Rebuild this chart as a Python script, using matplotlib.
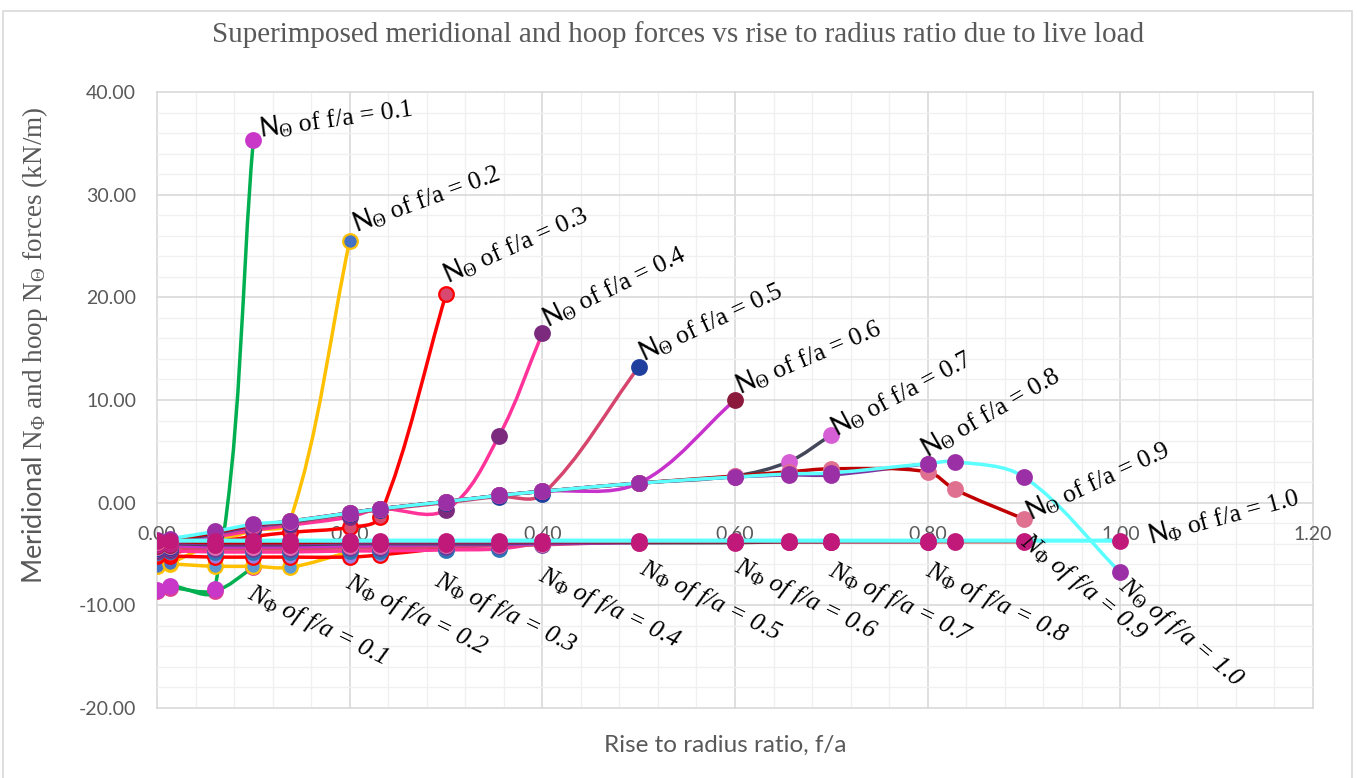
import numpy as np
import matplotlib
matplotlib.use("Agg")
import matplotlib.pyplot as plt
from matplotlib.path import Path
from matplotlib.patches import PathPatch, Rectangle
from matplotlib.ticker import MultipleLocator, FormatStrFormatter

plt.rcParams["mathtext.fontset"] = "custom"
plt.rcParams["mathtext.rm"] = "Liberation Serif"
plt.rcParams["mathtext.it"] = "Liberation Serif:italic"
plt.rcParams["mathtext.sf"] = "Lato"
plt.rcParams["mathtext.fallback"] = "stix"

W, H, DPI = 1357, 778, 100

# stations along the shell, expressed as rise to radius ratio
stations = [0.0, 0.0135, 0.06, 0.10, 0.138, 0.20, 0.231, 0.30, 0.355, 0.40,
            0.50, 0.60, 0.656, 0.70, 0.80, 0.828, 0.90, 1.00]

rise_ratios = ["0.1", "0.2", "0.3", "0.4", "0.5", "0.6", "0.7", "0.8", "0.9", "1.0"]

# hoop forces N_theta (kN/m)
hoop_01 = [-8.5, -8.1, -8.4, 35.3]
hoop_02 = [-6.2, -5.9, -3.9, -2.7, -1.8, 25.5]
hoop_03 = [-5.1, -5.0, -3.9, -3.3, -2.9, -2.4, -1.4, 20.3]
hoop_04 = [-4.7, -4.6, -3.4, -2.7, -2.2, -1.4, -0.6, -0.7, 6.5, 16.5]
hoop_05 = [-4.4, -4.3, -3.2, -2.5, -2.0, -1.1, -0.7, 0.0, 0.6, 0.8, 13.2]
hoop_06 = [-4.2, -4.1, -3.1, -2.4, -1.9, -1.0, -0.6, 0.1, 0.7, 1.1, 1.9, 10.0]
hoop_07 = [-4.0, -3.9, -3.0, -2.3, -1.9, -1.0, -0.6, 0.1, 0.7, 1.1, 1.9, 2.6, 4.0, 6.6]
hoop_08 = [-3.9, -3.8, -2.9, -2.3, -1.8, -1.0, -0.6, 0.1, 0.7, 1.1, 1.9, 2.5, 2.7, 2.7, 3.8]
hoop_09 = [-3.8, -3.7, -2.9, -2.2, -1.8, -1.0, -0.6, 0.1, 0.7, 1.1, 1.9, 2.6, 3.0, 3.3,
           3.0, 1.3, -1.6]
hoop_10 = [-3.6, -3.5, -2.8, -2.1, -1.8, -1.0, -0.6, 0.1, 0.7, 1.1, 1.9, 2.5, 2.8, 2.9,
           3.8, 4.0, 2.5, -6.8]

# meridional forces N_phi (kN/m)
merid_01 = [-8.6, -8.3, -8.6, -6.3]
merid_02 = [-6.2, -6.0, -6.2, -6.2, -6.3, -4.8]
merid_03 = [-5.2, -5.2, -5.3, -5.3, -5.3, -5.3, -5.1, -4.4]
merid_04 = [-4.8, -4.7, -4.8, -4.8, -4.8, -4.7, -4.7, -4.6, -4.5, -3.9]
merid_05 = [-4.5, -4.4, -4.5, -4.5, -4.5, -4.4, -4.4, -4.3, -4.2, -4.1, -3.8]
merid_06 = [-4.3, -4.2, -4.3, -4.3, -4.3, -4.2, -4.2, -4.1, -4.1, -4.0, -3.9, -3.8]
merid_07 = [-4.1, -4.0, -4.1, -4.1, -4.1, -4.0, -4.0, -4.0, -4.0, -3.9, -3.9, -3.9, -3.8, -3.8]
merid_08 = [-4.0, -3.9, -4.0, -4.0, -4.0, -3.9, -3.9, -3.9, -3.9, -3.9, -3.8, -3.8, -3.8,
            -3.8, -3.8]
merid_09 = [-3.9, -3.8, -3.9, -3.9, -3.9, -3.8, -3.8, -3.8, -3.8, -3.8, -3.8, -3.8, -3.8,
            -3.8, -3.8, -3.8, -3.8]
merid_10 = [-3.7, -3.7, -3.7, -3.7, -3.7, -3.7, -3.7, -3.7, -3.7, -3.7, -3.7, -3.7, -3.7,
            -3.7, -3.7, -3.7, -3.7, -3.7]

hoop_sets = [hoop_01, hoop_02, hoop_03, hoop_04, hoop_05,
             hoop_06, hoop_07, hoop_08, hoop_09, hoop_10]
merid_sets = [merid_01, merid_02, merid_03, merid_04, merid_05,
              merid_06, merid_07, merid_08, merid_09, merid_10]

line_colors = ["#00B050", "#FFC000", "#FF0000", "#FF3399", "#D6456E",
               "#C832CC", "#44475A", "#7E32A0", "#C00000", "#5CFFFF"]
hoop_marker = ["#C837C8", "#4472C4", "#D9486E", "#7B2A7E", "#1F3F9F",
               "#8B1A3D", "#D65FD6", "#9B2FA5", "#E07090", "#9B2FA5"]
hoop_edge = ["#C837C8", "#FFC000", "#FF0000", "#7B2A7E", "#1F3F9F",
             "#8B1A3D", "#D65FD6", "#9B2FA5", "#E07090", "#9B2FA5"]
merid_marker = ["#E0418E", "#5B9BD5", "#9B7FE0", "#2E75B6", "#6A3D9A",
                "#E070B0", "#C0197A", "#C0197A", "#C0197A", "#C0197A"]
merid_edge = ["#E0418E", "#FFC000", "#FF0000", "#2E75B6", "#6A3D9A",
              "#E070B0", "#C0197A", "#C0197A", "#C0197A", "#C0197A"]

# label placement: rotation (deg) and pixel offset from the last point
hoop_lab = [(8, 7, 3), (20, 6, 8), (24, 2, 10), (26, 5, 5), (25, 5, 5),
            (23, 5, 5), (28, 5, -2), (30, 0, 6), (25, 7, -2), (-40, 10, 0)]
merid_lab = [(-26, 2, -12), (-26, 3, -17), (-26, -4, -19), (-26, 4, -19),
             (-26, 8, -13), (-26, 7, -11), (-26, 5, -15), (-26, 5, -15),
             (-39, 8, 14), (15, 30, -4)]

LABEL_SIZE = 18.5

fig = plt.figure(figsize=(W / DPI, H / DPI), dpi=DPI)
ax = fig.add_axes([157 / W, 1 - 708 / H, (1313 - 157) / W, (708 - 92) / H])
ax.set_xlim(0, 1.2)
ax.set_ylim(-20, 40)

ax.xaxis.set_major_locator(MultipleLocator(0.2))
ax.xaxis.set_minor_locator(MultipleLocator(0.04))
ax.yaxis.set_major_locator(MultipleLocator(10))
ax.yaxis.set_minor_locator(MultipleLocator(2))
ax.xaxis.set_major_formatter(FormatStrFormatter("%.2f"))
ax.yaxis.set_major_formatter(FormatStrFormatter("%.2f"))
ax.grid(which="minor", color="#F0F0F0", lw=1.0, zorder=0)
ax.grid(which="major", color="#D9D9D9", lw=1.2, zorder=0)
ax.set_axisbelow(True)
for s in ax.spines.values():
    s.set_visible(False)
ax.spines["bottom"].set_position(("data", 0))
ax.tick_params(which="both", length=0)
ax.tick_params(axis="x", pad=17, labelsize=14, labelcolor="#595959")
ax.tick_params(axis="y", pad=15, labelsize=14, labelcolor="#595959")
for lab in ax.get_xticklabels() + ax.get_yticklabels():
    lab.set_family("Lato")
for gl in ax.get_xgridlines() + ax.get_ygridlines():
    gl.set_clip_on(False)


def smooth_path(xs, ys):
    """Bezier curve through the points, built in display space."""
    tr = ax.transData
    P = tr.transform(np.column_stack([xs, ys]))
    n = len(P)

    def unit(v):
        L = np.hypot(v[0], v[1])
        return v / L if L > 0 else v

    tang = []
    for i in range(n):
        if i == 0:
            tang.append(unit(P[1] - P[0]))
        elif i == n - 1:
            tang.append(unit(P[-1] - P[-2]))
        else:
            tang.append(unit(P[i + 1] - P[i - 1]))
    verts = [P[0]]
    codes = [Path.MOVETO]
    for i in range(n - 1):
        d = np.hypot(*(P[i + 1] - P[i]))
        verts += [P[i] + tang[i] * d / 3, P[i + 1] - tang[i + 1] * d / 3, P[i + 1]]
        codes += [Path.CURVE4] * 3
    return Path(tr.inverted().transform(np.array(verts)), codes)


def draw_series(xs, ys, color, mfc, mec, z, lw=2.5):
    ax.add_patch(PathPatch(smooth_path(xs, ys), fill=False, edgecolor=color,
                           lw=lw, capstyle="round", joinstyle="round", zorder=z))
    ax.plot(xs, ys, linestyle="none", marker="o", ms=10.5, mfc=mfc, mec=mec,
            mew=1.6, zorder=z + 0.1)


def put_label(txt, xy, rot, dx, dy, va, italic):
    ax.annotate(txt, xy=xy, xytext=(dx, dy), textcoords="offset pixels",
                rotation=rot, rotation_mode="anchor", ha="left", va=va,
                fontsize=LABEL_SIZE, family="Liberation Serif",
                fontstyle="italic" if italic else "normal",
                color="black", zorder=30)


n_sets = len(rise_ratios)
for k, ratio in enumerate(rise_ratios):
    hv = hoop_sets[k]
    mv = merid_sets[k]
    xh = stations[:len(hv)]
    xm = stations[:len(mv)]
    z = 3 + k * 0.5
    # the hemispherical case's meridional line sits on top of the others
    zm = 3 + n_sets * 0.5 if k == n_sets - 1 else z
    draw_series(xm, mv, line_colors[k], merid_marker[k], merid_edge[k], zm,
                lw=3.0 if k == n_sets - 1 else 2.5)
    draw_series(xh, hv, line_colors[k], hoop_marker[k], hoop_edge[k], z + 0.2)

    rot, dx, dy = hoop_lab[k]
    if ratio == "1.0":
        put_label(r"$N_{\Theta}$ of f/a = " + ratio, (xh[-1], hv[-1]),
                  rot, dx, dy, "top", True)
    else:
        put_label(r"$\mathsf{N}_{\Theta}$ of f/a = " + ratio, (xh[-1], hv[-1]),
                  rot, dx, dy, "baseline", False)

    rot, dx, dy = merid_lab[k]
    if ratio == "1.0":
        put_label(r"$\mathsf{N}_{\Phi}$ of f/a = " + ratio, (xm[-1], mv[-1]),
                  rot, dx, dy, "baseline", False)
    else:
        put_label(r"$N_{\Phi}$ of f/a = " + ratio, (xm[-1], mv[-1]),
                  rot, dx, dy, "top", True)

fig.text(0.5, 1 - 35 / H,
         "Superimposed meridional and hoop forces vs rise to radius ratio due to live load",
         ha="center", va="center", fontsize=21, family="Liberation Serif", color="#595959")
fig.text(725 / W, 1 - 745 / H, "Rise to radius ratio, f/a", ha="center", va="center",
         fontsize=17.5, family="Lato", color="#595959")
fig.text(35 / W, 1 - 345 / H,
         r"$\mathsf{Meridional}$ N$_{\Phi}$ and hoop N$_{\Theta}$ forces (kN/m)",
         rotation=90, ha="center", va="center", fontsize=19.5, family="Liberation Serif",
         color="#595959")

fig.patches.append(Rectangle((3 / W, -0.01), (1352 - 3) / W, 1 - 11 / H + 0.01,
                             transform=fig.transFigure, fill=False,
                             edgecolor="#D9D9D9", lw=1.2))

fig.savefig("out.png", dpi=DPI, facecolor="white")
